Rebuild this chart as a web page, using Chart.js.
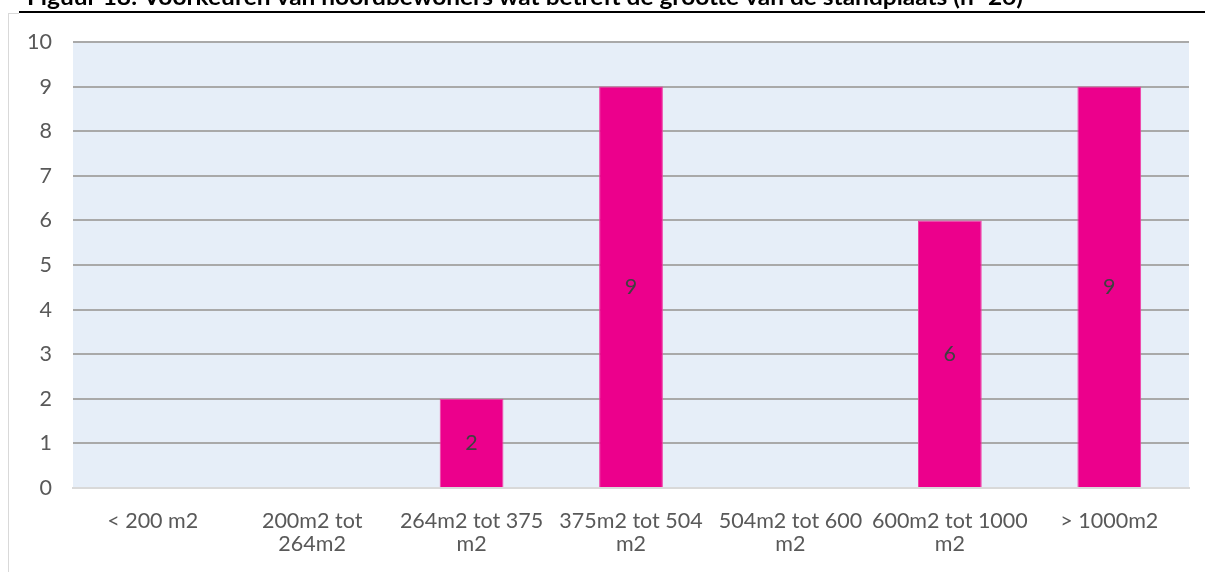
<!DOCTYPE html>
<html>
<head>
<meta charset="utf-8">
<script src="https://cdn.jsdelivr.net/npm/chart.js@4/dist/chart.umd.min.js"></script>
<style>
  html, body { margin: 0; padding: 0; background: #ffffff; }
  #wrap { width: 1205px; height: 572px; position: relative; }
</style>
</head>
<body>
<div id="wrap"><canvas id="c" width="1205" height="572"></canvas></div>
<script>
// Preferred plot size (number of respondents per size class)
const categories = [
  ['< 200 m2'],
  ['200m2 tot', '264m2'],
  ['264m2 tot 375', 'm2'],
  ['375m2 tot 504', 'm2'],
  ['504m2 tot 600', 'm2'],
  ['600m2 tot 1000', 'm2'],
  ['> 1000m2']
];
const counts = [0, 0, 2, 9, 0, 6, 9];
const yTicks = [0, 1, 2, 3, 4, 5, 6, 7, 8, 9, 10];
const titleText = 'Figuur 18: Voorkeuren van noordbewoners wat betreft de grootte van de standplaats (n=26)';

const FONT = 'Lato, "Open Sans", sans-serif';
const TEXT_SIZE = 21.5;

// Page furniture: figure caption, its rule and the chart frame
const framePlugin = {
  id: 'frame',
  beforeDraw(chart) {
    const ctx = chart.ctx;
    const a = chart.chartArea;
    ctx.save();
    ctx.fillStyle = '#ffffff';
    ctx.fillRect(0, 0, chart.width, chart.height);

    // caption (only its lower part sits on the canvas)
    ctx.font = 'bold 22px ' + FONT;
    ctx.fillStyle = '#000000';
    ctx.textBaseline = 'alphabetic';
    ctx.textAlign = 'left';
    const w = ctx.measureText(titleText).width;
    const target = 996;
    ctx.translate(27, 5);
    ctx.scale(target / w, 1);
    ctx.fillText(titleText, 0, 0);
    ctx.setTransform(1, 0, 0, 1, 0, 0);

    // rule under the caption
    ctx.fillStyle = '#000000';
    ctx.fillRect(19, 11, chart.width - 19, 2);

    // chart frame
    ctx.fillStyle = '#d9d9d9';
    ctx.fillRect(8, 13, 1, chart.height - 13);
    ctx.fillRect(8, 13, 11, 1);

    // plot background
    ctx.fillStyle = '#e6eef8';
    ctx.fillRect(a.left, a.top, a.right - a.left, a.bottom - a.top);
    ctx.restore();
  }
};

// Value labels centred inside each bar
const valueLabels = {
  id: 'valueLabels',
  afterDatasetsDraw(chart) {
    const ctx = chart.ctx;
    const meta = chart.getDatasetMeta(0);
    ctx.save();
    ctx.font = TEXT_SIZE + 'px ' + FONT;
    ctx.fillStyle = '#404040';
    ctx.textAlign = 'center';
    ctx.textBaseline = 'middle';
    meta.data.forEach((bar, i) => {
      const v = counts[i];
      if (!v) return;
      const p = bar.getProps(['x', 'y', 'base'], true);
      ctx.fillText(String(v), p.x, (p.y + p.base) / 2);
    });
    ctx.restore();
  }
};

new Chart(document.getElementById('c'), {
  type: 'bar',
  data: {
    labels: categories,
    datasets: [{
      data: counts,
      backgroundColor: '#ec008c',
      borderColor: '#f03ca4',
      borderWidth: 1,
      barPercentage: 0.4,
      categoryPercentage: 1.0
    }]
  },
  options: {
    responsive: false,
    animation: false,
    devicePixelRatio: 1,
    layout: { padding: { top: 42, right: 16, bottom: 0, left: 0 } },
    plugins: {
      legend: { display: false },
      title: { display: false },
      tooltip: { enabled: false }
    },
    scales: {
      x: {
        grid: { display: false, drawTicks: false },
        border: { display: true, color: '#d9d9d9', width: 2 },
        ticks: {
          color: '#595959',
          font: { family: FONT, size: TEXT_SIZE, lineHeight: 1.08 },
          padding: 21,
          maxRotation: 0,
          autoSkip: false
        },
        afterFit(scale) { scale.height = 84; }
      },
      y: {
        min: 0,
        max: 10,
        afterBuildTicks(scale) { scale.ticks = yTicks.map(v => ({ value: v })); },
        grid: {
          drawTicks: false,
          lineWidth: 2,
          color: ctx => (ctx.tick && ctx.tick.value === 0) ? '#d9d9d9' : '#a9a9a9'
        },
        border: { display: false },
        ticks: {
          color: '#595959',
          font: { family: FONT, size: TEXT_SIZE },
          padding: 21
        },
        afterFit(scale) { scale.width = 73; }
      }
    }
  },
  plugins: [framePlugin, valueLabels]
});
</script>
</body>
</html>
